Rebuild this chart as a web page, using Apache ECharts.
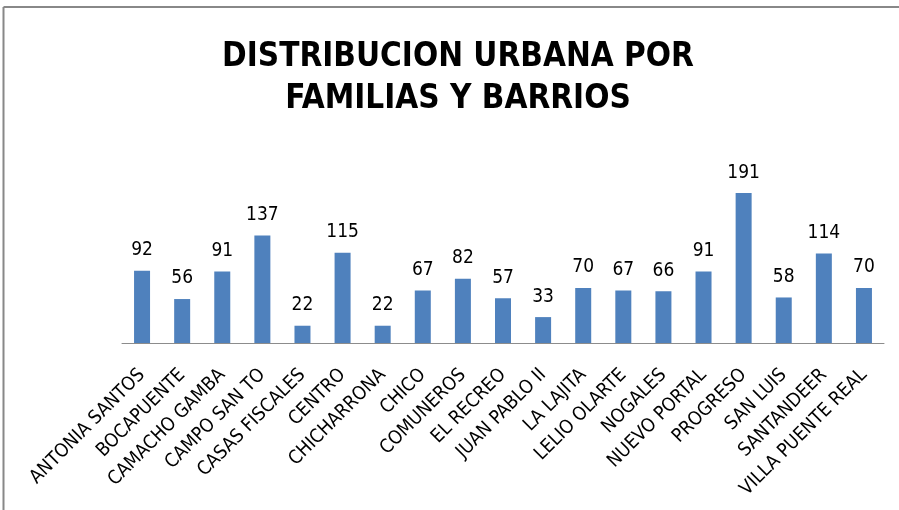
<!DOCTYPE html>
<html>
<head>
<meta charset="utf-8">
<script src="https://cdn.jsdelivr.net/npm/echarts@6/dist/echarts.min.js"></script>
<style>
  html, body { margin: 0; padding: 0; background: #fff; }
  #chart { width: 899px; height: 510px; }
</style>
</head>
<body>
<div id="chart"></div>
<script>
// Barrios and number of families per barrio
const barrios = [
  'ANTONIA SANTOS', 'BOCAPUENTE', 'CAMACHO GAMBA', 'CAMPO SAN TO', 'CASAS FISCALES',
  'CENTRO', 'CHICHARRONA', 'CHICO', 'COMUNEROS', 'EL RECREO', 'JUAN PABLO II',
  'LA LAJITA', 'LELIO OLARTE', 'NOGALES', 'NUEVO PORTAL', 'PROGRESO', 'SAN LUIS',
  'SANTANDEER', 'VILLA PUENTE REAL'
];
const familias = [92, 56, 91, 137, 22, 115, 22, 67, 82, 57, 33, 70, 67, 66, 91, 191, 58, 114, 70];

const titleLines = ['DISTRIBUCION URBANA POR', 'FAMILIAS Y BARRIOS'];

const chart = echarts.init(document.getElementById('chart'));
const baseFont = "'Liberation Sans Narrow', 'DejaVu Sans Condensed', 'Liberation Sans', sans-serif";

chart.setOption({
  backgroundColor: '#ffffff',
  animation: false,
  title: {
    text: titleLines.join('\n'),
    left: 453,
    top: 31,
    textAlign: 'center',
    textStyle: {
      fontFamily: baseFont,
      fontWeight: 'bold',
      fontSize: 33,
      lineHeight: 42,
      color: '#000000'
    }
  },
  graphic: [
    { type: 'line', shape: { x1: 3.5, y1: 7, x2: 899, y2: 7 }, style: { stroke: '#888888', lineWidth: 2 } },
    { type: 'line', shape: { x1: 3.5, y1: 7, x2: 3.5, y2: 510 }, style: { stroke: '#888888', lineWidth: 2 } }
  ],
  grid: { left: 122, right: 15, top: 186, bottom: 167 },
  xAxis: {
    type: 'category',
    data: barrios,
    axisLine: { lineStyle: { color: '#8c8c8c', width: 1 } },
    axisTick: { show: false },
    axisLabel: {
      interval: 0,
      rotate: 45,
      margin: 29,
      fontFamily: baseFont,
      fontSize: 19,
      color: '#000000'
    }
  },
  yAxis: {
    type: 'value',
    min: 0,
    max: 200,
    show: false,
    splitLine: { show: false }
  },
  series: [{
    type: 'bar',
    data: familias,
    barWidth: 16,
    itemStyle: { color: '#4f81bd' },
    label: {
      show: true,
      position: 'top',
      distance: 11,
      fontFamily: baseFont,
      fontSize: 19,
      color: '#000000'
    }
  }]
});
</script>
</body>
</html>
